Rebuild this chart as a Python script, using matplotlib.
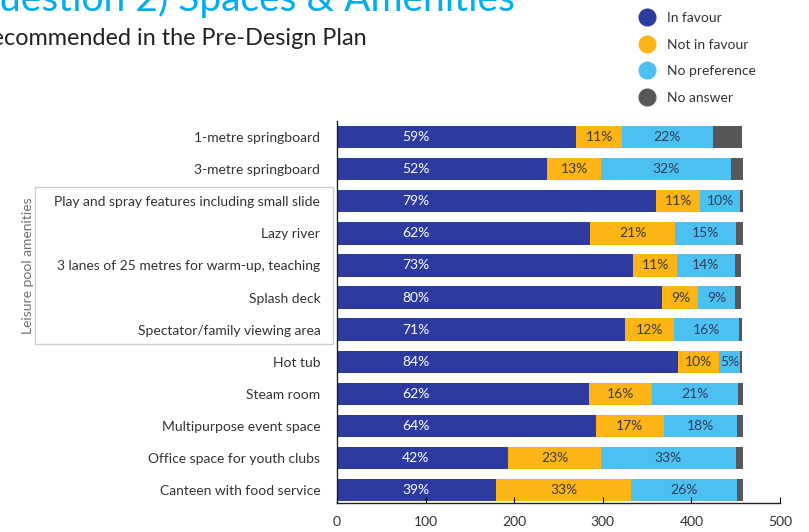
import numpy as np
import matplotlib.pyplot as plt
from matplotlib.lines import Line2D
from matplotlib.patches import Rectangle
from matplotlib import transforms

plt.rcParams["font.family"] = ["Lato", "DejaVu Sans"]

amenities = [
    "1-metre springboard",
    "3-metre springboard",
    "Play and spray features including small slide",
    "Lazy river",
    "3 lanes of 25 metres for warm-up, teaching",
    "Splash deck",
    "Spectator/family viewing area",
    "Hot tub",
    "Steam room",
    "Multipurpose event space",
    "Office space for youth clubs",
    "Canteen with food service",
]

# response counts
in_favour = [270, 237, 360, 286, 334, 367, 325, 385, 284, 292, 193, 180]
not_in_favour = [52, 61, 50, 96, 50, 41, 55, 46, 72, 77, 105, 152]
no_preference = [102, 147, 45, 68, 65, 41, 74, 24, 97, 83, 152, 120]
no_answer = [33, 13, 3, 8, 7, 7, 3, 2, 5, 6, 8, 6]

series_names = ["In favour", "Not in favour", "No preference", "No answer"]
colors = ["#2D3A9F", "#FDB515", "#4DC0F2", "#555759"]
label_colors = ["white", "#3a3a3a", "#2f3f5c", None]

leisure_rows = [2, 6]  # first and last row of the leisure pool group

fig = plt.figure(figsize=(8.09, 5.32), dpi=100)
ax = fig.add_axes([337 / 809, 1 - 503 / 532, (780 - 337) / 809, (503 - 121) / 532])

data = np.array([in_favour, not_in_favour, no_preference, no_answer], dtype=float)
totals = data.sum(axis=0)
y = np.arange(len(amenities))
left = np.zeros(len(amenities))

for i, (vals, name, col) in enumerate(zip(data, series_names, colors)):
    ax.barh(y, vals, left=left, height=0.7, color=col, label=name)
    if label_colors[i] is not None:
        for j, v in enumerate(vals):
            pct = int(round(v / totals[j] * 100))
            # blue labels sit at a fixed spot, the others are centred
            xpos = 89 if i == 0 else left[j] + v / 2
            ax.text(xpos, y[j], f"{pct}%", ha="center", va="center",
                    color=label_colors[i], fontsize=10)
    left += vals

ax.set_xlim(0, 500)
ax.set_ylim(len(amenities) - 0.6, -0.5)
ax.set_xticks([0, 100, 200, 300, 400, 500])
ax.set_yticks(y)
ax.set_yticklabels(amenities, fontsize=10, color="#333333")
ax.tick_params(axis="y", length=0, pad=12)
ax.tick_params(axis="x", direction="in", length=4, labelsize=10,
               labelcolor="#333333", pad=9)
for s in ["top", "right"]:
    ax.spines[s].set_visible(False)
for s in ["left", "bottom"]:
    ax.spines[s].set_linewidth(1.0)
    ax.spines[s].set_color("#222222")

# bracket box around the leisure pool rows
trans = transforms.blended_transform_factory(fig.transFigure, ax.transData)
r0, r1 = leisure_rows
box = Rectangle((35 / 809, r0 - 0.45), (333 - 35) / 809, (r1 - r0) + 0.9,
                transform=trans, fill=False, edgecolor="#cfcfcf", lw=1.0,
                clip_on=False)
fig.add_artist(box)
fig.text(28 / 809, (r0 + r1) / 2, "Leisure pool amenities", rotation=90,
         ha="center", va="center", color="#707070", fontsize=10,
         transform=trans)

# titles, clipped at the top-left like the slide crop
fig.text(515 / 809, 1 - 11 / 532, "Question 2) Spaces & Amenities", ha="right",
         va="baseline", color="#00AEEF", fontsize=28)
fig.text(367 / 809, 1 - 45 / 532, "Recommended in the Pre-Design Plan", ha="right",
         va="baseline", color="#222222", fontsize=16.8)

handles = [Line2D([], [], marker="o", linestyle="none", markersize=12,
                  markerfacecolor=c, markeredgecolor=c) for c in colors]
fig.legend(handles, series_names, loc="upper left", frameon=False,
           bbox_to_anchor=(632 / 809, 1 - 5 / 532), fontsize=10,
           labelspacing=1.05, handletextpad=0.85, handlelength=1.2,
           borderpad=0, labelcolor="#333333")

fig.savefig("out.png", dpi=100)
